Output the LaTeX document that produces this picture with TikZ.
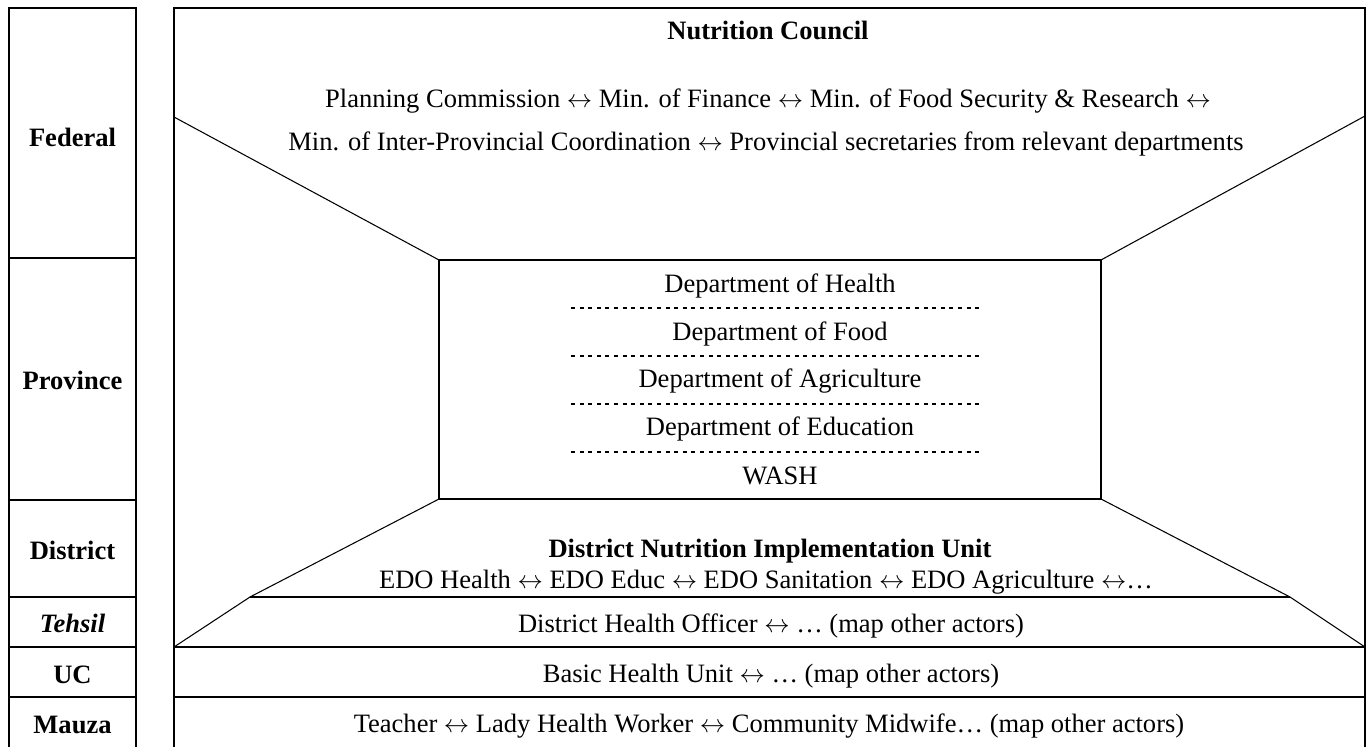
\documentclass[tikz,border=0pt]{standalone}
\usepackage{fontspec}
\setmainfont{Liberation Serif}
\newcommand{\both}{$\leftrightarrow$}
\begin{document}
\begin{tikzpicture}[x=0.02cm, y=-0.02cm,
  frame/.style={line width=1.1pt},
  slant/.style={line width=0.6pt},
  sep/.style={line width=1.1pt, dash pattern=on 0.08cm off 0.092cm},
  txt/.style={anchor=base, inner sep=0pt, font=\fontsize{15.1}{18}\selectfont},
  lvl/.style={txt, font=\fontsize{15.1}{18}\selectfont\bfseries}]
\useasboundingbox (0,0) rectangle (1370,747);
% level column
\draw[frame] (9,747) -- (9,8) -- (136,8) -- (136,747);
\foreach \y in {258,500,597,647,697} \draw[frame] (9,\y) -- (136,\y);
\node[lvl] (federal) at (72.5,146) {Federal};
\node[lvl] (province) at (72.5,389) {Province};
\node[lvl] (district) at (72.5,559) {District};
\node[lvl] (tehsil) at (72.5,632) {\itshape Tehsil};
\node[lvl] (uc) at (72.5,683) {UC};
\node[lvl] (mauza) at (72.5,733) {Mauza};
% corners
\coordinate (tl) at (174,117);
\coordinate (tr) at (1365,116);
\coordinate (ia) at (439,260);
\coordinate (ib) at (1101,260);
\coordinate (ic) at (1101,499);
\coordinate (id) at (439,499);
\coordinate (ll) at (250,597);
\coordinate (lr) at (1290,597);
\coordinate (bl) at (174,647);
\coordinate (br) at (1365,647);
% main frame
\draw[frame] (174,747) -- (174,8) -- (1365,8) -- (1365,747);
\draw[frame] (bl) -- (br);
\draw[frame] (174,697) -- (1365,697);
\draw[frame] (ia) rectangle (ic);
\draw[frame] (ll) -- (lr);
\draw[slant] (tl) -- (ia);
\draw[slant] (tr) -- (ib);
\draw[slant] (id) -- (ll) -- (bl);
\draw[slant] (ic) -- (lr) -- (br);
\foreach \y in {307.7,356,404,451.7} \draw[sep] (571,\y) -- (981,\y);
% federal
\node[lvl] (council) at (768,39) {Nutrition Council};
\node[txt] (fed1) at (768,107) {Planning Commission \both{} Min. of Finance \both{} Min. of Food Security \& Research \both};
\node[txt] (fed2) at (766,150) {Min. of Inter-Provincial Coordination \both{} Provincial secretaries from relevant departments};
% province
\node[txt] (health) at (780,292) {Department of Health};
\node[txt] (food) at (780,340) {Department of Food};
\node[txt] (agri) at (780,387) {Department of Agriculture};
\node[txt] (educ) at (780,435) {Department of Education};
\node[txt] (wash) at (780,484) {WASH};
% district and below
\node[lvl] (dniu) at (770,557) {District Nutrition Implementation Unit};
\node[txt] (edo) at (766,588) {EDO Health \both{} EDO Educ \both{} EDO Sanitation \both{} EDO Agriculture \both…};
\node[txt] (dho) at (771,632) {District Health Officer \both{} … (map other actors)};
\node[txt] (bhu) at (771,682) {Basic Health Unit \both{} … (map other actors)};
\node[txt] (teacher) at (769,732) {Teacher \both{} Lady Health Worker \both{} Community Midwife… (map other actors)};
\end{tikzpicture}
\end{document}
